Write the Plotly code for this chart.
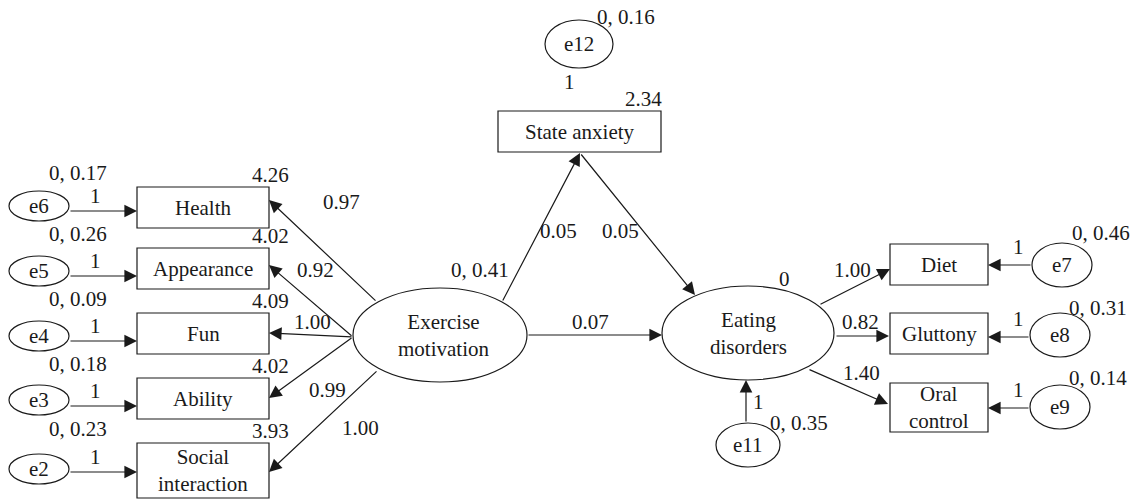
import plotly.graph_objects as go

# ---------------- data (labels and estimates) ----------------
left_indicators = ["Health", "Appearance", "Fun", "Ability", "Social<br>interaction"]
left_errors = ["e6", "e5", "e4", "e3", "e2"]
left_error_stats = ["0, 0.17", "0, 0.26", "0, 0.09", "0, 0.18", "0, 0.23"]
left_intercepts = ["4.26", "4.02", "4.09", "4.02", "3.93"]
left_loadings = ["0.97", "0.92", "1.00", "0.99", "1.00"]
left_fixed = ["1", "1", "1", "1", "1"]

right_indicators = ["Diet", "Gluttony", "Oral<br>control"]
right_errors = ["e7", "e8", "e9"]
right_error_stats = ["0, 0.46", "0, 0.31", "0, 0.14"]
right_loadings = ["1.00", "0.82", "1.40"]
right_fixed = ["1", "1", "1"]

latent_names = ["Exercise<br>motivation", "Eating<br>disorders"]
latent_stats = ["0, 0.41", "0"]
mediator_name = "State anxiety"
mediator_intercept = "2.34"
mediator_error = "e12"
mediator_error_stat = "0, 0.16"
mediator_fixed = "1"
path_exercise_anxiety = "0.05"
path_anxiety_eating = "0.05"
path_exercise_eating = "0.07"
eating_error = "e11"
eating_error_stat = "0, 0.35"
eating_fixed = "1"

# ---------------- layout geometry (pixel space) ----------------
W, H = 1134, 499
FONT = dict(family="Liberation Serif, Times New Roman, serif", size=21, color="#1a1a1a")
LINE = dict(color="#1a1a1a", width=1.2)

left_box_x = (137, 269)
left_box_y = [(187, 228), (248, 289), (313, 354), (378, 419), (443, 498)]
left_err_cx, left_err_rx, left_err_ry = 39, 30, 15
left_err_cy = [206, 271, 336, 400, 469]
left_err_arrow_y = [211, 276, 341, 406, 472]
left_load_start = [(377, 302), (353, 337), (353, 337), (353, 337), (378, 370)]
left_load_end_y = [200, 265, 333, 398, 472]
left_load_label_pos = [(341, 202), (315, 270), (312, 322), (327, 390), (360, 428)]

ex_c, ex_r = (440, 335), (87, 47)
ed_c, ed_r = (748, 333), (86, 47)

sa_box = (498, 661, 111, 152)
e12_c, e12_r = (579, 44), (34, 24)

right_box_x = (890, 988)
right_box_y = [(244, 285), (313, 354), (383, 432)]
right_err_c = [(1062, 265), (1060, 335), (1060, 407)]
right_err_r = (30, 22)
right_err_arrow_y = [265, 337, 408]
right_load_start = [(819, 305), (835, 336), (808, 369)]
right_load_end = [(890, 269), (889, 336), (888, 404)]
right_load_label_pos = [(852, 270), (860, 322), (861, 373)]
right_stat_pos = [(1101, 233), (1098, 308), (1098, 378)]

e11_c, e11_r = (748, 445), (32, 22)

shapes = []
annotations = []


def rect(x0, x1, y0, y1):
    shapes.append(dict(type="rect", xref="x", yref="y", x0=x0, x1=x1, y0=y0, y1=y1,
                       line=LINE, fillcolor="white", layer="above"))


def ellipse(c, r):
    shapes.append(dict(type="circle", xref="x", yref="y", x0=c[0] - r[0], x1=c[0] + r[0],
                       y0=c[1] - r[1], y1=c[1] + r[1], line=LINE, fillcolor="white", layer="above"))


def text(x, y, s, xanchor="center"):
    annotations.append(dict(x=x, y=y, xref="x", yref="y", text=s, showarrow=False,
                            font=FONT, xanchor=xanchor, yanchor="middle"))


def arrow(x0, y0, x1, y1):
    annotations.append(dict(x=x1, y=y1, ax=x0, ay=y0, xref="x", yref="y", axref="x", ayref="y",
                            text="", showarrow=True, arrowhead=2, arrowsize=2.1,
                            arrowwidth=1.2, arrowcolor="#1a1a1a", standoff=0, startstandoff=0))


# left measurement model
for i, name in enumerate(left_indicators):
    y0, y1 = left_box_y[i]
    rect(left_box_x[0], left_box_x[1], y0, y1)
    text((left_box_x[0] + left_box_x[1]) / 2, (y0 + y1) / 2, name)
    ellipse((left_err_cx, left_err_cy[i]), (left_err_rx, left_err_ry))
    text(left_err_cx, left_err_cy[i], left_errors[i])
    arrow(left_err_cx + left_err_rx, left_err_arrow_y[i], left_box_x[0], left_err_arrow_y[i])
    text(78, y0 - 14, left_error_stats[i])
    text(95, left_err_arrow_y[i] - 15, left_fixed[i])
    text(270, y0 - 12, left_intercepts[i])
    sx, sy = left_load_start[i]
    arrow(sx, sy, left_box_x[1], left_load_end_y[i])
    text(*left_load_label_pos[i], left_loadings[i])

# latent variables
ellipse(ex_c, ex_r)
text(ex_c[0] + 3, ex_c[1], latent_names[0])
text(480, 270, latent_stats[0])
ellipse(ed_c, ed_r)
text(ed_c[0], ed_c[1], latent_names[1])
text(784, 279, latent_stats[1])

# mediator
rect(sa_box[0], sa_box[1], sa_box[2], sa_box[3])
text((sa_box[0] + sa_box[1]) / 2, (sa_box[2] + sa_box[3]) / 2, mediator_name)
text(643, 99, mediator_intercept)
ellipse(e12_c, e12_r)
text(e12_c[0], e12_c[1], mediator_error)
text(626, 17, mediator_error_stat)
text(569, 82, mediator_fixed)

# structural paths
arrow(502, 302, 580, 153)
text(558, 231, path_exercise_anxiety)
arrow(580, 153, 695, 295)
text(620, 231, path_anxiety_eating)
arrow(ex_c[0] + ex_r[0], 335, ed_c[0] - ed_r[0], 335)
text(590, 322, path_exercise_eating)

# eating disorders error
ellipse(e11_c, e11_r)
text(e11_c[0], e11_c[1], eating_error)
arrow(746, e11_c[1] - e11_r[1], 746, ed_c[1] + ed_r[1])
text(758, 402, eating_fixed)
text(799, 423, eating_error_stat)

# right measurement model
for i, name in enumerate(right_indicators):
    y0, y1 = right_box_y[i]
    rect(right_box_x[0], right_box_x[1], y0, y1)
    text((right_box_x[0] + right_box_x[1]) / 2, (y0 + y1) / 2, name)
    ellipse(right_err_c[i], right_err_r)
    text(right_err_c[i][0], right_err_c[i][1], right_errors[i])
    ey = right_err_arrow_y[i]
    arrow(right_err_c[i][0] - right_err_r[0], ey, right_box_x[1], ey)
    text(1018, ey - 18, right_fixed[i])
    text(*right_stat_pos[i], right_error_stats[i])
    sx, sy = right_load_start[i]
    ex_, ey_ = right_load_end[i]
    arrow(sx, sy, ex_, ey_)
    text(*right_load_label_pos[i], right_loadings[i])

fig = go.Figure()
fig.add_trace(go.Scatter(x=[0, W], y=[0, H], mode="markers", marker=dict(opacity=0),
                         hoverinfo="skip", showlegend=False))
fig.update_layout(
    width=W, height=H, margin=dict(l=0, r=0, t=0, b=0),
    paper_bgcolor="white", plot_bgcolor="white",
    xaxis=dict(range=[0, W], visible=False, fixedrange=True),
    yaxis=dict(range=[H, 0], visible=False, fixedrange=True),
    shapes=shapes, annotations=annotations, showlegend=False,
)
fig.write_html("out.html", config={"displayModeBar": False},
               post_script="document.body.style.margin='0';document.body.style.overflow='hidden';")
